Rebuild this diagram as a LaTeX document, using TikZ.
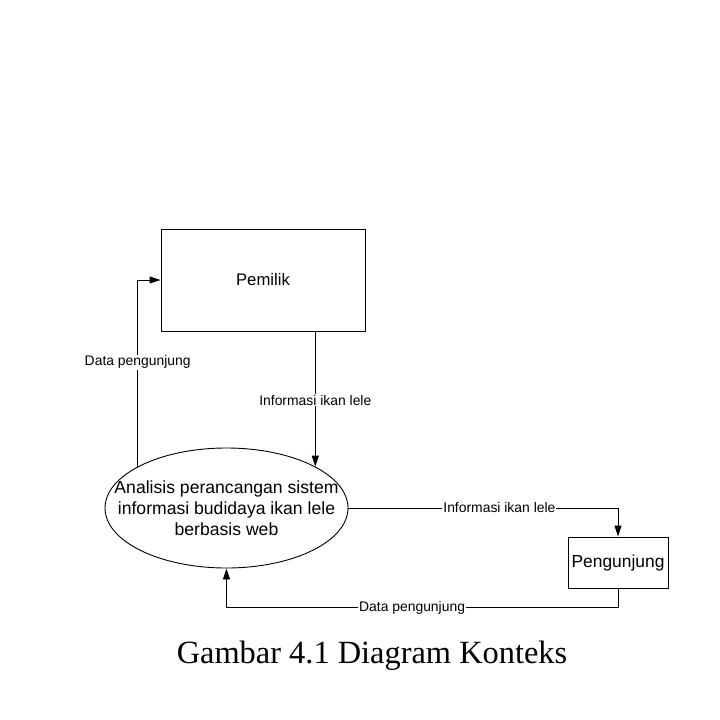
\documentclass[tikz,border=0pt]{standalone}
\usepackage{fontspec}
\usetikzlibrary{arrows.meta,shapes.geometric}
\newfontfamily\diafont{Liberation Sans}
\newfontfamily\capfont{Liberation Serif}
\begin{document}
\begin{tikzpicture}[x=1pt,y=-1pt,
  box/.style={draw, line width=0.9pt, inner sep=0pt},
  proc/.style={draw, ellipse, line width=0.9pt, inner sep=0pt, minimum width=243pt, minimum height=120pt},
  proctext/.style={align=center, inner sep=0pt, font=\diafont\fontsize{17.6}{21}\selectfont},
  arr/.style={line width=0.9pt, -{Triangle[length=11pt,width=7pt]}},
  lbl/.style={fill=white, inner sep=1pt, font=\diafont\fontsize{13.9}{16}\selectfont}]
\useasboundingbox[fill=white] (0,0) rectangle (720,720);
\node[box, minimum width=204pt, minimum height=102pt, font=\diafont\fontsize{16.7}{20}\selectfont] (pem) at (263,280) {Pemilik};
\node[proc] (ell) at (226.5,508) {};
\node[proctext] (elltext) at (ell.center) {Analisis perancangan sistem\\informasi budidaya ikan lele\\berbasis web};
\node[box, minimum width=100pt, minimum height=51pt, font=\diafont\fontsize{17.4}{20}\selectfont] (peng) at (618,562.5) {Pengunjung};
\draw[arr] (ell.155) |- (pem.west) node[lbl, pos=0.28] {Data pengunjung};
\draw[arr] (pem.south -| ell.25) -- (ell.25) node[lbl, pos=0.51] {Informasi ikan lele};
\draw[arr] (ell.east) -| (peng.north) node[lbl, pos=0.28] {Informasi ikan lele};
\draw[arr] (peng.south) -- ++(0,19) coordinate (b1) -| (ell.south) node[lbl, pos=0.263] {Data pengunjung};
\node[anchor=base, font=\capfont\fontsize{32.4}{36}\selectfont] (cap) at (372,663) {Gambar 4.1 Diagram Konteks};
\end{tikzpicture}
\end{document}
